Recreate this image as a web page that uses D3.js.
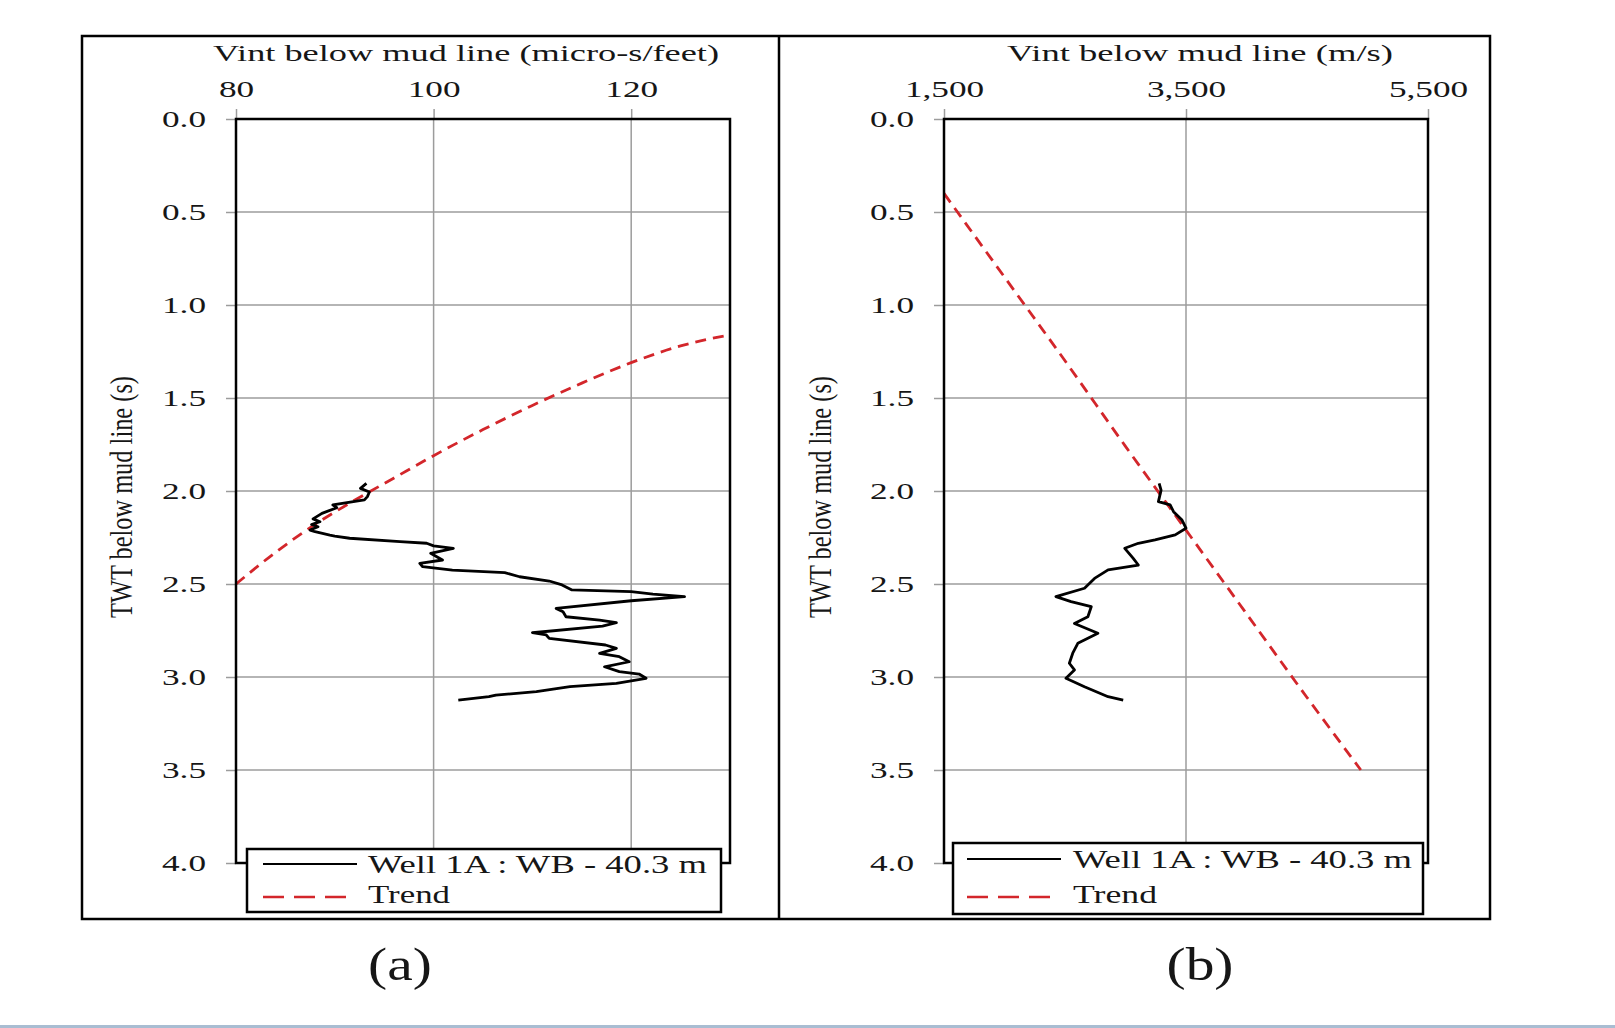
<!DOCTYPE html>
<html>
<head>
<meta charset="utf-8">
<script src="https://cdn.jsdelivr.net/npm/d3@7/dist/d3.min.js"></script>
<style>
  html, body { margin: 0; padding: 0; background: #fff; }
  svg { display: block; }
  text { font-family: "Liberation Serif", "Times New Roman", serif; fill: #161616; }
</style>
</head>
<body>
<svg width="1615" height="1028"></svg>
<script>
var yTicks = [0, 0.5, 1, 1.5, 2, 2.5, 3, 3.5, 4]
var xTicksA = [80, 100, 120]
var xTicksB = [1500, 3500, 5500]
var legendLabels = ['Well 1A : WB - 40.3 m', 'Trend']
var panelTags = ['(a)', '(b)']

// well 1A : [Vint micro-s/feet, TWT s]
var wellA = [[93.2, 1.959], [92.6, 1.986], [93.5, 2.005], [93.3, 2.030], [93.0, 2.048],
  [89.8, 2.075], [90.2, 2.090], [88.7, 2.120], [87.8, 2.150], [88.5, 2.165], [87.65, 2.180],
  [88.3, 2.192], [87.5, 2.210], [88.0, 2.219], [89.5, 2.237], [90.0, 2.242], [91.5, 2.254],
  [96.6, 2.272], [99.3, 2.281], [100.0, 2.295], [102.0, 2.308], [99.7, 2.335], [100.9, 2.371],
  [98.6, 2.389], [98.9, 2.407], [101.9, 2.425], [107.2, 2.439], [108.7, 2.461], [111.7, 2.484],
  [113.0, 2.505], [114.0, 2.532], [120.0, 2.541], [122.2, 2.554], [125.4, 2.568], [120.0, 2.590],
  [112.4, 2.631], [113.1, 2.649], [113.4, 2.676], [116.8, 2.694], [118.5, 2.708], [117.1, 2.726],
  [110.0, 2.762], [111.4, 2.774], [111.7, 2.792], [117.4, 2.828], [118.5, 2.846], [116.8, 2.873],
  [118.8, 2.891], [119.8, 2.918], [117.3, 2.945], [118.8, 2.971], [120.8, 2.984], [121.5, 3.007],
  [118.5, 3.034], [113.8, 3.052], [110.4, 3.079], [106.3, 3.097], [105.6, 3.106], [102.5, 3.124]]

var trendA = [[80, 2.50], [84, 2.33], [88, 2.18], [92, 2.05], [96, 1.93], [100, 1.81],
  [105, 1.67], [110, 1.54], [115, 1.42], [120, 1.31], [125, 1.22], [130, 1.16]]

// well 1A : [Vint m/s, TWT s]
var wellB = [[3278, 1.959], [3294, 1.995], [3272, 2.057], [3369, 2.075], [3397, 2.111],
  [3467, 2.156], [3500, 2.200], [3411, 2.236], [3244, 2.263], [3106, 2.281], [2994, 2.308],
  [3064, 2.362], [3106, 2.398], [2856, 2.424], [2744, 2.470], [2661, 2.523], [2425, 2.568],
  [2550, 2.595], [2717, 2.622], [2689, 2.676], [2578, 2.712], [2772, 2.765], [2606, 2.819],
  [2564, 2.872], [2536, 2.926], [2578, 2.962], [2508, 3.007], [2661, 3.052], [2856, 3.106],
  [2981, 3.124]]

var trendB = [[1500, 0.40], [2000, 0.85], [2500, 1.30], [3000, 1.76], [3500, 2.21],
  [4000, 2.66], [4500, 3.11], [4945, 3.50]]

var svg = d3.select('svg')
var SX = 1.5 // the source figure is stretched sideways
var RED = '#d3262b'
var GRID = '#9c9c9c'

svg.append('rect')
  .attr('x', 0).attr('y', 1025).attr('width', 1615).attr('height', 3)
  .attr('fill', '#a9bdd2')

svg.append('rect')
  .attr('x', 82).attr('y', 36).attr('width', 1408).attr('height', 883)
  .attr('fill', 'none').attr('stroke', '#000').attr('stroke-width', 2.5)

svg.append('line')
  .attr('x1', 779).attr('x2', 779).attr('y1', 36).attr('y2', 919)
  .attr('stroke', '#000').attr('stroke-width', 2.5)

function panel (o) {
  var x = d3.scaleLinear().domain(o.xDomain).range(o.xRange)
  var y = d3.scaleLinear().domain([0, 4]).range([119, 863])
  var g = svg.append('g')

  // grid
  g.selectAll('.gx').data(o.xTicks).enter().append('line')
    .attr('x1', x).attr('x2', x).attr('y1', 119).attr('y2', 863)
    .attr('stroke', GRID).attr('stroke-width', 1.5)
  g.selectAll('.gy').data(yTicks).enter().append('line')
    .attr('x1', o.xRange[0]).attr('x2', o.xRange[1])
    .attr('y1', y).attr('y2', y)
    .attr('stroke', GRID).attr('stroke-width', 1.5)

  // axes
  var top = g.append('g')
    .attr('transform', 'translate(0,119)')
    .call(d3.axisTop(x).tickValues(o.xTicks).tickFormat(o.fmt).tickSize(10).tickPadding(12))
  var left = g.append('g')
    .attr('transform', 'translate(' + o.xRange[0] + ',0)')
    .call(d3.axisLeft(y).tickValues(yTicks).tickFormat(d3.format('.1f')).tickSize(10).tickPadding(20))
  ;[top, left].forEach(function (a) {
    a.attr('font-family', null).attr('font-size', 23.5)
    a.select('.domain').remove()
    a.selectAll('line').attr('stroke', GRID).attr('stroke-width', 1.5)
    a.selectAll('text').attr('fill', '#161616').attr('transform', 'scale(' + SX + ',1)')
  })
  left.selectAll('text').attr('x', -30 / SX)

  svg.append('text')
    .attr('x', o.titleX).attr('y', 61)
    .attr('font-size', 24)
    .attr('textLength', o.titleLen).attr('lengthAdjust', 'spacingAndGlyphs')
    .text(o.title)

  svg.append('text')
    .attr('transform', 'translate(' + o.yTitleX + ',497) rotate(-90) scale(1,1.35)')
    .attr('text-anchor', 'middle')
    .attr('font-size', 24)
    .attr('textLength', 242).attr('lengthAdjust', 'spacingAndGlyphs')
    .text('TWT below mud line (s)')

  var line = d3.line()
    .x(function (d) { return x(d[0]) })
    .y(function (d) { return y(d[1]) })

  g.append('path')
    .attr('d', line.curve(d3.curveMonotoneX)(o.trend))
    .attr('fill', 'none').attr('stroke', RED)
    .attr('stroke-width', 2.8).attr('stroke-dasharray', '11,7')

  g.append('path')
    .attr('d', line.curve(d3.curveLinear)(o.well))
    .attr('fill', 'none').attr('stroke', '#000')
    .attr('stroke-width', 2.8).attr('stroke-linejoin', 'round')

  g.append('rect')
    .attr('x', o.xRange[0]).attr('y', 119)
    .attr('width', o.xRange[1] - o.xRange[0]).attr('height', 744)
    .attr('fill', 'none').attr('stroke', '#000').attr('stroke-width', 2.5)

  // legend
  var lg = o.legend
  g.append('rect')
    .attr('x', lg.x).attr('y', lg.y).attr('width', lg.w).attr('height', lg.h)
    .attr('fill', '#fff').attr('stroke', '#000').attr('stroke-width', 2.5)
  g.append('line')
    .attr('x1', lg.sx).attr('x2', lg.sx + 94).attr('y1', lg.rows[0] - 9).attr('y2', lg.rows[0] - 9)
    .attr('stroke', '#000').attr('stroke-width', 2)
  g.append('line')
    .attr('x1', lg.sx).attr('x2', lg.sx + 90).attr('y1', 897).attr('y2', 897)
    .attr('stroke', RED).attr('stroke-width', 2.5).attr('stroke-dasharray', '21,10')
  g.selectAll('.lt').data(legendLabels).enter().append('text')
    .attr('x', lg.tx)
    .attr('y', function (d, i) { return lg.rows[i] })
    .attr('font-size', 25)
    .attr('textLength', function (d, i) { return lg.lens[i] })
    .attr('lengthAdjust', 'spacingAndGlyphs')
    .text(function (d) { return d })

  svg.append('text')
    .attr('transform', 'translate(' + o.tagX + ',980) scale(1.25,1)')
    .attr('text-anchor', 'middle')
    .attr('font-size', 46)
    .text(o.tag)
}

panel({
  xDomain: [80, 130],
  xRange: [236, 730],
  xTicks: xTicksA,
  fmt: d3.format('d'),
  title: 'Vint below mud line (micro-s/feet)',
  titleX: 213,
  titleLen: 506,
  yTitleX: 132,
  well: wellA,
  trend: trendA,
  legend: {x: 247, y: 849, w: 474, h: 63, sx: 263, tx: 368, rows: [873, 903], lens: [339, 82]},
  tag: panelTags[0],
  tagX: 400
})

panel({
  xDomain: [1500, 5500],
  xRange: [944, 1428],
  xTicks: xTicksB,
  fmt: d3.format(','),
  title: 'Vint below mud line (m/s)',
  titleX: 1007,
  titleLen: 386,
  yTitleX: 831,
  well: wellB,
  trend: trendB,
  legend: {x: 953, y: 843, w: 470, h: 71, sx: 967, tx: 1073, rows: [868, 903], lens: [339, 84]},
  tag: panelTags[1],
  tagX: 1200
})
</script>
</body>
</html>
